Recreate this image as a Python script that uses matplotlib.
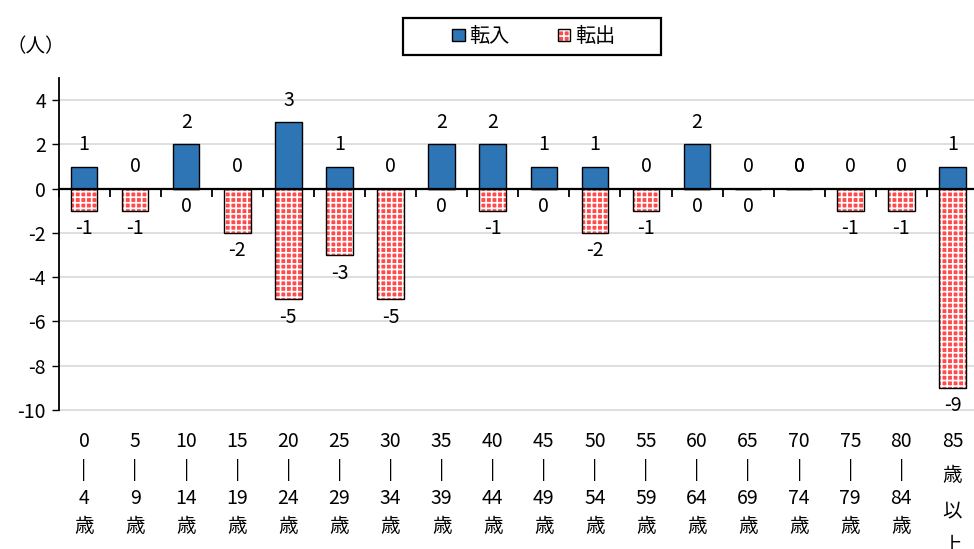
import matplotlib
matplotlib.use("Agg")
import matplotlib.pyplot as plt
from matplotlib.patches import Rectangle
from matplotlib.legend_handler import HandlerTuple
import numpy as np

plt.rcParams['font.family'] = ['Noto Sans CJK JP', 'DejaVu Sans']
plt.rcParams['hatch.linewidth'] = 1.2

categories = ["0\n|\n4\n歳", "5\n|\n9\n歳", "10\n|\n14\n歳", "15\n|\n19\n歳",
              "20\n|\n24\n歳", "25\n|\n29\n歳", "30\n|\n34\n歳", "35\n|\n39\n歳",
              "40\n|\n44\n歳", "45\n|\n49\n歳", "50\n|\n54\n歳", "55\n|\n59\n歳",
              "60\n|\n64\n歳", "65\n|\n69\n歳", "70\n|\n74\n歳", "75\n|\n79\n歳",
              "80\n|\n84\n歳", "85\n歳\n以\n上"]
tennyu = [1, 0, 2, 0, 3, 1, 0, 2, 2, 1, 1, 0, 2, 0, 0, 0, 0, 1]
tenshutsu = [-1, -1, 0, -2, -5, -3, -5, 0, -1, 0, -2, -1, 0, 0, 0, -1, -1, -9]
out_label_above = [14]
yticks = [-10, -8, -6, -4, -2, 0, 2, 4]
series_names = ["転入", "転出"]

blue = '#2E75B6'
red = '#FF4B4B'
fs = 14

fig = plt.figure(figsize=(9.74, 5.49), dpi=100)
ax = fig.add_axes([58.5/974, 1-410/549, 919.5/974, 332/549])

x = np.arange(len(categories))
w = 0.52
ax.bar(x, tennyu, w, color=blue, edgecolor='black', linewidth=1, zorder=3)
ax.bar(x, tenshutsu, w, color=red, edgecolor='white', linewidth=0, hatch='+++', zorder=3)
ax.bar(x, tenshutsu, w, fill=False, edgecolor='black', linewidth=1, zorder=4)

ymin, ymax = -10, 5
ax.set_ylim(ymin, ymax)
ax.set_xlim(-0.5, len(categories) - 0.5)
ax.set_yticks(yticks)
ax.set_yticklabels([str(v) for v in yticks], fontsize=fs)
ax.yaxis.grid(True, color='#D9D9D9', linewidth=1.2, zorder=0)
for gl in ax.get_ygridlines():
    gl.set_clip_on(False)
ax.set_axisbelow(True)
ax.tick_params(axis='y', length=5, width=1, color='black', direction='out', pad=4)

ax.set_xticks(x)
ax.set_xticklabels(categories, fontsize=fs, linespacing=1.45)
ax.tick_params(axis='x', length=0, pad=15)
ax.get_xticklabels()[-1].set_linespacing(1.85)

for s in ['top', 'right', 'bottom']:
    ax.spines[s].set_visible(False)
ax.spines['left'].set_linewidth(1.3)
ax.spines['left'].set_color('black')

sec = ax.secondary_xaxis(0, transform=ax.transData)
sec.set_xticks(np.arange(len(categories) + 1) - 0.5)
sec.set_xticklabels([])
sec.tick_params(length=6, width=1.3, color='black', direction='out')
sec.spines['bottom'].set_linewidth(1.6)
sec.spines['bottom'].set_color('black')
sec.set_zorder(6)

for i, v in enumerate(tennyu):
    ax.annotate(str(v), (x[i], v), xytext=(0, 16), textcoords='offset points',
                ha='center', va='center', fontsize=fs, zorder=5)
for i, v in enumerate(tenshutsu):
    if i in out_label_above:
        ax.annotate(str(v), (x[i], 0), xytext=(0, 16), textcoords='offset points',
                    ha='center', va='center', fontsize=fs, zorder=5)
    else:
        ax.annotate(str(v), (x[i], v), xytext=(0, -13), textcoords='offset points',
                    ha='center', va='center', fontsize=fs, zorder=5)

fig.text(6/974, 1-47/549, "（人）", fontsize=fs, ha='left', va='center')

h_in = Rectangle((0, 0), 1, 1, facecolor=blue, edgecolor='black', linewidth=1)
h_out_fill = Rectangle((0, 0), 1, 1, facecolor=red, edgecolor='white', linewidth=0, hatch='+++')
h_out_edge = Rectangle((0, 0), 1, 1, fill=False, edgecolor='black', linewidth=1)
leg = fig.legend([h_in, (h_out_fill, h_out_edge)], series_names,
                 handler_map={tuple: HandlerTuple(ndivide=1)},
                 loc='center', bbox_to_anchor=(534/974, 1-36.5/549), ncol=2,
                 fontsize=14.5, frameon=False,
                 handlelength=0.6, handleheight=0.6, handletextpad=0.25,
                 columnspacing=2.4, borderpad=0.3, borderaxespad=0)
frame = Rectangle((403/974, 1-55/549), 258/974, 37/549, transform=fig.transFigure,
                  fill=False, edgecolor='black', linewidth=1.6)
fig.add_artist(frame)

fig.savefig("out.png", dpi=100)
